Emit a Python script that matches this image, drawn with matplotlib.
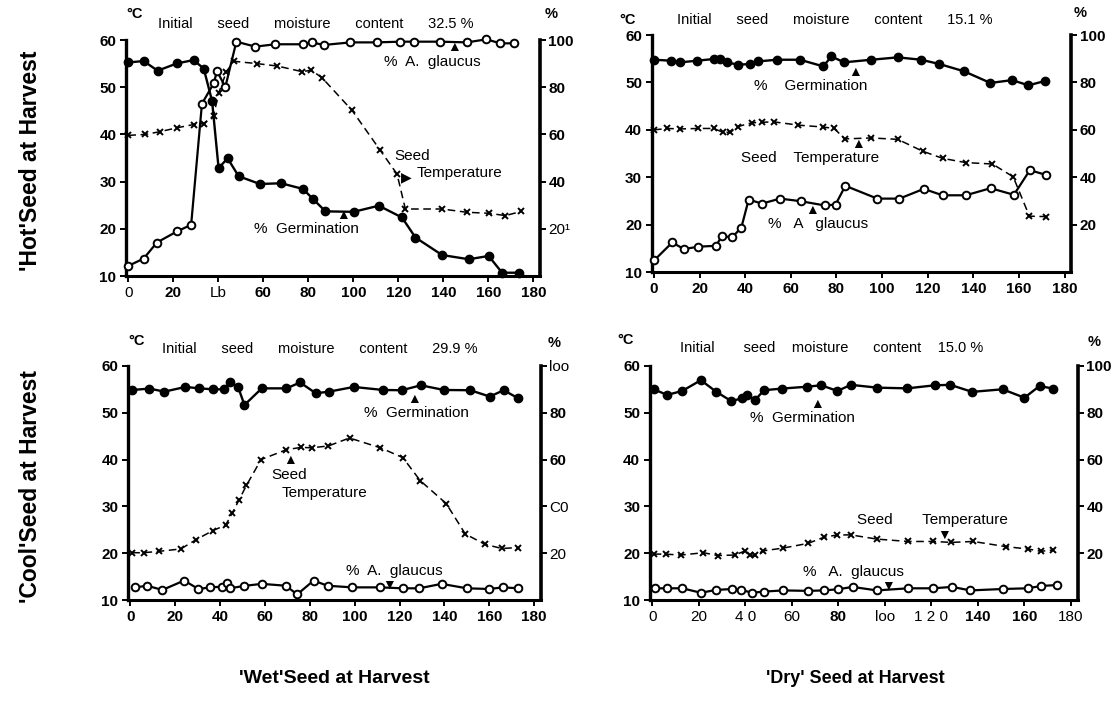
import numpy as np
import matplotlib.pyplot as plt

plt.rcParams['font.family'] = ['Liberation Sans', 'DejaVu Sans']

# 'Hot' / 'Wet' seed  (initial moisture 32.5 %)
hw_temp_x = [0, 7.6, 14.2, 21.6, 29, 33.5, 37.9, 40.1, 43.6, 46.8, 57.2, 66.1, 77.2, 81.3, 86.1, 99.4, 112, 119.4, 123.1, 139.4, 150.5, 160.1, 167.6, 174.7]
hw_temp = [39.8, 40, 40.6, 41.4, 42.1, 42.3, 44, 48.7, 53.3, 55.5, 55, 54.5, 53.3, 53.6, 52, 45.1, 36.6, 31.6, 24.2, 24.2, 23.5, 23.3, 22.8, 23.7]
hw_germ_x = [0, 6.8, 13, 21.6, 29, 33.5, 37.2, 40.1, 44.1, 49, 58.4, 67.9, 77.6, 82.1, 87.6, 100.1, 111.3, 121.6, 127.6, 139.4, 151.3, 160.1, 166.1, 173.5]
hw_germ = [90.5, 91.1, 87, 90.1, 91.5, 87.9, 74.2, 45.7, 49.9, 42.3, 39, 39.3, 36.9, 32.6, 27.4, 27.2, 29.8, 24.8, 16.3, 8.9, 7.1, 8.5, 1.4, 1.4]
hw_glau_x = [0, 6.8, 12.7, 21.6, 27.9, 32.7, 37.9, 39.4, 43.1, 48, 56.4, 65.3, 77.6, 81.6, 86.8, 98.7, 110.5, 120.9, 127.1, 138.7, 150.5, 159.1, 165.3, 171.3]
hw_glau = [4.3, 7.4, 14.2, 18.9, 21.7, 73, 81.6, 86.8, 80.1, 99.3, 97.2, 98.2, 98.2, 99, 97.9, 99, 99, 99.3, 99.3, 99.3, 99, 100.3, 98.6, 98.6]

# 'Hot' / 'Dry' seed  (initial moisture 15.1 %)
hd_temp_x = [0, 5.8, 11.6, 19.3, 26.2, 30.1, 33.5, 36.8, 42.9, 47.3, 52.4, 63.3, 74.2, 79, 83.6, 95.3, 106.9, 117.8, 126.5, 136.7, 148.4, 157.5, 164.6, 171.9]
hd_temp = [40, 40.3, 40.2, 40.3, 40.3, 39.5, 39.5, 40.7, 41.5, 41.6, 41.7, 41, 40.6, 40.3, 38.1, 38.3, 38, 35.5, 34, 33.1, 32.8, 30.1, 21.8, 21.7]
hd_germ_x = [0, 7.3, 11.6, 18.9, 26.2, 29.1, 32, 36.8, 42.2, 45.8, 53.8, 64, 74.2, 77.8, 83.3, 95.3, 106.9, 117.1, 125.1, 136, 147.5, 157, 164.2, 171.3]
hd_germ = [89.6, 89.2, 88.5, 89.2, 89.9, 89.9, 88.5, 87.5, 87.8, 88.9, 89.6, 89.6, 86.8, 91, 88.5, 89.6, 90.6, 89.6, 87.8, 84.7, 79.8, 81, 78.8, 80.6]
hd_glau_x = [0, 8, 13.1, 19.3, 27.2, 29.8, 34.2, 38.3, 41.5, 47.3, 55.3, 64.4, 74.9, 79.6, 83.9, 97.9, 107.6, 118.3, 126.5, 136.7, 147.6, 157.8, 164.8, 171.9]
hd_glau = [4.9, 12.5, 9.7, 10.7, 11.1, 15.3, 14.6, 18.8, 30.6, 28.9, 31, 29.9, 28.1, 28.5, 36.4, 31, 31, 35.1, 32.4, 32.4, 35.4, 32.6, 43, 41]

# 'Cool' / 'Wet' seed  (initial moisture 29.9 %)
cw_temp_x = [0.9, 6, 12.9, 22.5, 29.4, 36.7, 42.5, 45.5, 48.4, 51.8, 58.3, 69.6, 76.2, 80.8, 88.3, 97.7, 111.5, 121.5, 129.2, 140.8, 149.3, 158, 165.6, 172.7]
cw_temp = [20.1, 20.1, 20.4, 20.9, 22.9, 24.8, 26, 28.6, 31.3, 34.5, 40, 42.1, 42.6, 42.5, 42.9, 44.6, 42.5, 40.4, 35.5, 30.6, 24.1, 21.9, 21, 21.2]
cw_germ_x = [0.9, 8.5, 15.2, 24.6, 30.8, 36.7, 41.8, 44.4, 48, 50.9, 58.6, 69.6, 75.7, 82.7, 88.6, 99.6, 112.7, 121, 129.5, 139.8, 151.5, 160.2, 166.4, 173]
cw_germ = [89.7, 90.3, 89, 91, 90.4, 90, 90, 93.1, 91.1, 83.3, 90.4, 90.4, 92.9, 88.3, 89, 91, 89.7, 89.6, 91.7, 89.7, 89.6, 86.9, 89.6, 86.1]
cw_glau_x = [2.3, 7.5, 14.3, 24, 30.4, 35.7, 41.1, 43.3, 44.4, 50.6, 58.6, 69.3, 74.4, 81.7, 87.9, 98.8, 111.3, 121.5, 128.8, 138.7, 150, 159.9, 166.1, 173]
cw_glau = [5.4, 6.1, 4.3, 8.3, 4.7, 5.4, 5.7, 7.1, 5, 6, 6.9, 6.1, 2.4, 8.3, 6.1, 5.4, 5.4, 5, 5, 6.9, 5, 4.7, 5.4, 5]

# 'Cool' / 'Dry' seed  (initial moisture 15.0 %)
cd_temp_x = [0.6, 5.7, 12.2, 22, 28.1, 35.4, 40, 41.9, 44.3, 47.7, 56.4, 67, 73.8, 79.6, 85.4, 96.7, 110, 120.9, 128.6, 138, 152, 161.4, 167.2, 172.3]
cd_temp = [19.8, 19.8, 19.6, 20.1, 19.5, 19.6, 20.5, 19.6, 19.6, 20.5, 21.1, 22.1, 23.4, 23.9, 23.9, 23, 22.5, 22.5, 22.3, 22.5, 21.4, 20.9, 20.4, 20.7]
cd_germ_x = [0.6, 6.4, 12.9, 20.9, 27.4, 33.9, 38.6, 40.7, 44.1, 48, 55.7, 66.5, 72.6, 79.6, 85.4, 96.7, 109.6, 121.4, 128.1, 137.5, 150.6, 160, 166.5, 172.3]
cd_germ = [90, 87.6, 89.3, 93.9, 89, 85, 86.1, 87.6, 85.3, 89.6, 90.3, 91.1, 91.7, 89.3, 91.9, 90.7, 90.4, 91.7, 91.9, 88.9, 90, 86.4, 91.4, 90.3]
cd_glau_x = [1.3, 6.4, 12.9, 20.9, 27.4, 34.3, 38.3, 42.9, 48, 56.4, 67, 73.8, 80, 86.1, 96.5, 110, 120.9, 128.8, 136.8, 150.6, 161.4, 167.2, 174.2]
cd_glau = [5, 5, 5, 3.1, 4.3, 4.7, 4.3, 3.1, 3.6, 4.1, 3.9, 4.1, 4.6, 5.6, 4.1, 5, 5, 5.6, 4.1, 4.7, 5, 6, 6.4]

x_ticks = [0, 20, 40, 60, 80, 100, 120, 140, 160, 180]
left_ticks = [10, 20, 30, 40, 50, 60]
right_ticks = [20, 40, 60, 80, 100]

fig = plt.figure(figsize=(11.16, 7.16), dpi=100)


def draw_panel(pos, temp_x, temp, germ_x, germ, glau_x, glau, title, notes, arrows,
               xlabels, xbold, rlabels, rbold):
    ax = fig.add_axes(pos)
    ax2 = ax.twinx()
    ax.set_xlim(-1, 183)
    ax.set_ylim(10, 60)
    ax2.set_ylim(0, 100)

    ax.plot(temp_x, temp, color='k', lw=1.1, ls=(0, (5, 3)), marker='x',
            ms=5, mew=1.4, clip_on=False)
    ax2.plot(germ_x, germ, color='k', lw=1.7, marker='o', ms=6, clip_on=False)
    ax2.plot(glau_x, glau, color='k', lw=1.6, marker='o', ms=5.5,
             mfc='white', mew=1.4, clip_on=False)

    for a in (ax, ax2):
        a.spines['top'].set_visible(False)
    ax.spines['right'].set_visible(False)
    ax2.spines['left'].set_visible(False)
    ax2.spines['bottom'].set_visible(False)
    ax.spines['left'].set_linewidth(2.4)
    ax.spines['bottom'].set_linewidth(2.2)
    ax2.spines['right'].set_linewidth(2.6)

    ax.set_xticks(x_ticks)
    ax.set_xticklabels(xlabels)
    ax.set_yticks(left_ticks)
    ax.set_yticklabels([str(t) for t in left_ticks])
    ax2.set_yticks(right_ticks)
    ax2.set_yticklabels(rlabels)
    ax.tick_params(direction='out', length=4, width=1.4, labelsize=11, pad=3)
    ax2.tick_params(direction='out', length=4, width=1.4, labelsize=11, pad=2)

    for lab in ax.get_yticklabels():
        lab.set_fontweight('bold')
    for lab, b in zip(ax.get_xticklabels(), xbold):
        lab.set_fontweight('bold' if b else 'normal')
    for lab, b in zip(ax2.get_yticklabels(), rbold):
        lab.set_fontweight('bold' if b else 'normal')

    # title line, degree sign and percent sign above the frame
    ax.text(title[0], title[1], title[2], ha='left', va='center', fontsize=10.5,
            clip_on=False)
    ax.text(title[3], title[4], '°C', ha='left', va='center', fontsize=10.5,
            fontweight='bold', clip_on=False)
    ax.text(title[5], title[6], '%', ha='center', va='center', fontsize=10.5,
            fontweight='bold', clip_on=False)

    for x, y, s in notes:
        ax.text(x, y, s, ha='left', va='center', fontsize=11, clip_on=False)
    for x, y, s, va in arrows:
        ax.text(x, y, s, ha='center', va=va, fontsize=10, clip_on=False)
    return ax


draw_panel([0.113, 0.6145, 0.371, 0.3296], hw_temp_x, hw_temp, hw_germ_x, hw_germ,
           hw_glau_x, hw_glau,
           (13, 63.5, 'Initial      seed      moisture      content      32.5 %', -1, 65.5, 188, 65.5),
           [(113.5, 55.4, '%  A.  glaucus'), (118, 35.5, 'Seed'),
            (128, 31.8, 'Temperature'), (56, 20, '%  Germination')],
           [(144.6, 57.0, '▲', 'bottom'), (123.5, 31.0, '▶', 'center'),
            (95.3, 21.5, '▲', 'bottom')],
           ['0', '20', 'Lb', '60', '80', '100', '120', '140', '160', '180'],
           [0, 1, 0, 1, 1, 1, 1, 1, 1, 1],
           ['20¹', '40', '60', '80', '100'], [0, 1, 1, 1, 1])

draw_panel([0.584, 0.620, 0.376, 0.331], hd_temp_x, hd_temp, hd_germ_x, hd_germ,
           hd_glau_x, hd_glau,
           (10, 63.1, 'Initial      seed      moisture      content      15.1 %', -15, 63.1, 187, 64.6),
           [(44, 49.2, '%    Germination'), (38, 34, 'Seed    Temperature'),
            (50, 20.2, '%   A   glaucus')],
           [(88, 50.7, '▲', 'bottom'), (89.5, 35.5, '▲', 'bottom'),
            (69.5, 21.7, '▲', 'bottom')],
           [str(t) for t in x_ticks], [1] * 10,
           ['20', '40', '60', '80', '100'], [1] * 5)

draw_panel([0.1147, 0.162, 0.370, 0.327], cw_temp_x, cw_temp, cw_germ_x, cw_germ,
           cw_glau_x, cw_glau,
           (14, 63.6, 'Initial      seed      moisture      content      29.9 %', -1, 65.3, 189, 64.9),
           [(104, 50, '%  Germination'), (63, 36.8, 'Seed'),
            (67.4, 32.9, 'Temperature'), (96, 16.2, '%  A.  glaucus')],
           [(126.6, 51.5, '▲', 'bottom'), (71, 38.3, '▲', 'bottom'),
            (115.4, 14.7, '▼', 'top')],
           [str(t) for t in x_ticks], [1] * 10,
           ['20', 'C0', '60', '80', 'loo'], [0, 0, 1, 1, 0])

draw_panel([0.5824, 0.162, 0.3835, 0.327], cd_temp_x, cd_temp, cd_germ_x, cd_germ,
           cd_glau_x, cd_glau,
           (12, 63.9, 'Initial       seed    moisture      content    15.0 %', -15, 65.5, 190, 65),
           [(42, 48.8, '%  Germination'), (88, 27.0, 'Seed       Temperature'),
            (65, 16.0, '%   A.  glaucus')],
           [(70.9, 50.3, '▲', 'bottom'), (125.5, 25.5, '▼', 'top'),
            (101.3, 14.5, '▼', 'top')],
           ['0', '20', '4 0', '60', '80', 'loo', '1 2 0', '140', '160', '180'],
           [0, 0, 0, 0, 1, 0, 0, 1, 1, 0],
           ['20', '40', '60', '80', '100'], [1] * 5)

fig.text(0.027, 0.776, "'Hot'Seed at Harvest", rotation=90, ha='center', va='center',
         fontsize=16.5, fontweight='bold')
fig.text(0.027, 0.32, "'Cool'Seed at Harvest", rotation=90, ha='center', va='center',
         fontsize=16.5, fontweight='bold')
fig.text(0.300, 0.053, "'Wet'Seed at Harvest", ha='center', va='center',
         fontsize=14, fontweight='bold')
fig.text(0.766, 0.053, "'Dry' Seed at Harvest", ha='center', va='center',
         fontsize=13, fontweight='bold')

fig.savefig('out.png', dpi=100)
